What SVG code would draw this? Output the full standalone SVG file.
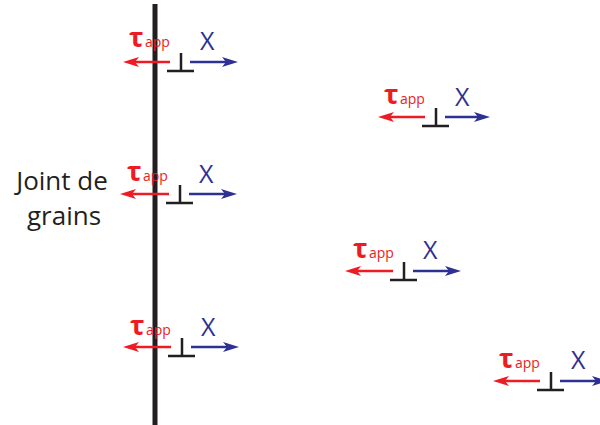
<svg xmlns="http://www.w3.org/2000/svg" width="600" height="425" viewBox="0 0 600 425">
<style>
.gb{stroke:#231f20;stroke-width:5;fill:none}
.disl{stroke:#231f20;stroke-width:2.5;fill:none}
.red{stroke:#ed1c24;stroke-width:2.5;fill:none;marker-end:url(#hr)}
.blue{stroke:#2e3192;stroke-width:2.5;fill:none;marker-end:url(#hb)}
.tau{font-family:"Open Sans","Liberation Sans",sans-serif;fill:#ed1c24;font-size:27px;font-weight:bold}
.app{font-family:"Open Sans","Liberation Sans",sans-serif;fill:#ed1c24;font-size:14px}
.x{font-family:"Open Sans","Liberation Sans",sans-serif;fill:#2e3192;font-size:25px}
.lbl{font-family:"Open Sans","Liberation Sans",sans-serif;fill:#231f20;font-size:26px;text-anchor:middle}
</style>
<defs>
<marker id="hr" markerUnits="userSpaceOnUse" markerWidth="16" markerHeight="10" refX="8" refY="5" orient="auto" overflow="visible">
<path d="M0,0 L16,5 L0,10 L4,5 z" fill="#ed1c24"/>
</marker>
<marker id="hb" markerUnits="userSpaceOnUse" markerWidth="16" markerHeight="10" refX="8" refY="5" orient="auto" overflow="visible">
<path d="M0,0 L16,5 L0,10 L4,5 z" fill="#2e3192"/>
</marker>
<g id="sym">
<path class="disl" d="M0,-9 V9 M-14,9 H13"/>
</g>
</defs>
<line id="grain-boundary" class="gb" x1="155" y1="4" x2="155" y2="425"/>
<g id="label">
<text class="lbl" x="62" y="190">Joint de</text>
<text class="lbl" x="64" y="225">grains</text>
</g>
<g id="connectors">
<line class="red" x1="170" y1="62" x2="131" y2="62"/>
<line class="blue" x1="190" y1="62" x2="230" y2="62"/>
<line class="red" x1="425" y1="117" x2="386" y2="117"/>
<line class="blue" x1="445" y1="117" x2="482" y2="117"/>
<line class="red" x1="169" y1="194" x2="128" y2="194"/>
<line class="blue" x1="189" y1="194" x2="229" y2="194"/>
<line class="red" x1="393" y1="271" x2="353" y2="271"/>
<line class="blue" x1="413" y1="271" x2="453" y2="271"/>
<line class="red" x1="171" y1="347" x2="131" y2="347"/>
<line class="blue" x1="191" y1="347" x2="231" y2="347"/>
<line class="red" x1="540" y1="381" x2="501" y2="381"/>
<line class="blue" x1="560" y1="381" x2="600" y2="381"/>
</g>
<g id="d1" transform="translate(181,62)">
<use href="#sym"/>
<text class="tau" x="-52" y="-15">τ</text><text class="app" x="-36" y="-15">app</text>
<text class="x" x="19" y="-12">X</text>
</g>
<g id="d2" transform="translate(436,117)">
<use href="#sym"/>
<text class="tau" x="-52" y="-13">τ</text><text class="app" x="-36" y="-13">app</text>
<text class="x" x="19" y="-11">X</text>
</g>
<g id="d3" transform="translate(180,194)">
<use href="#sym"/>
<text class="tau" x="-53" y="-13">τ</text><text class="app" x="-37" y="-13">app</text>
<text class="x" x="19" y="-11">X</text>
</g>
<g id="d4" transform="translate(404,271)">
<use href="#sym"/>
<text class="tau" x="-51" y="-13">τ</text><text class="app" x="-35" y="-13">app</text>
<text class="x" x="19" y="-12">X</text>
</g>
<g id="d5" transform="translate(182,347)">
<use href="#sym"/>
<text class="tau" x="-52" y="-12">τ</text><text class="app" x="-36" y="-12">app</text>
<text class="x" x="19" y="-11">X</text>
</g>
<g id="d6" transform="translate(551,381)">
<use href="#sym"/>
<text class="tau" x="-52" y="-13">τ</text><text class="app" x="-36" y="-13">app</text>
<text class="x" x="20" y="-12">X</text>
</g>
</svg>
